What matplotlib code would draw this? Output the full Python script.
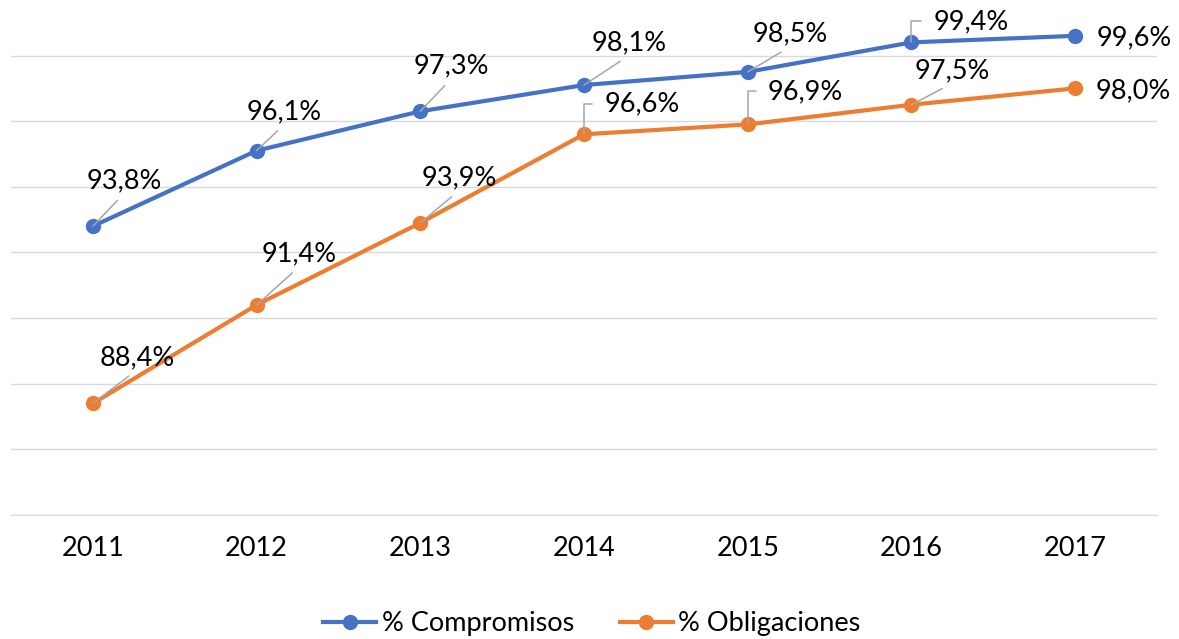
import matplotlib
matplotlib.use("Agg")
import matplotlib.pyplot as plt

plt.rcParams['font.family'] = ['Lato', 'DejaVu Sans']

years = ['2011', '2012', '2013', '2014', '2015', '2016', '2017']
compromisos = [93.8, 96.1, 97.3, 98.1, 98.5, 99.4, 99.6]
obligaciones = [88.4, 91.4, 93.9, 96.6, 96.9, 97.5, 98.0]

# label offsets in pixels (dx, dy) and leader style
comp_off = [(31, 45, 'd'), (28, 39, 'd'), (31, 45, 'd'), (45, 42, 'd'),
            (43, 38, 'd'), (60, 21, 'e'), (59, -2, None)]
oblig_off = [(44, 46, 'd'), (43, 51, 'd'), (39, 45, 'd'), (58, 30, 'e'),
             (58, 33, 'e'), (41, 34, 'd'), (58, -2, None)]

blue = '#4472C4'
orange = '#ED7D31'
fs = 19.5

fig = plt.figure(figsize=(11.79, 6.39), dpi=100)
ax = fig.add_axes([11 / 1179, (639 - 515) / 639, 1146 / 1179, 512 / 639])

x = range(len(years))
ax.plot(x, compromisos, color=blue, lw=3, marker='o', ms=10, label='% Compromisos', zorder=3)
ax.plot(x, obligaciones, color=orange, lw=3, marker='o', ms=10, label='% Obligaciones', zorder=3)


def label(vals, offs):
    for i, (v, (dx, dy, kind)) in enumerate(zip(vals, offs)):
        txt = f"{v:.1f}%".replace('.', ',')
        if kind == 'd':
            ap = dict(arrowstyle='-', color='#a6a6a6', lw=1.1, shrinkA=4, shrinkB=0,
                      relpos=(0.5, 0.0))
        elif kind == 'e':
            ap = dict(arrowstyle='-', color='#a6a6a6', lw=1.1, shrinkA=7, shrinkB=0,
                      relpos=(0.0, 0.5), connectionstyle='angle,angleA=0,angleB=90,rad=0')
        else:
            ap = None
        ax.annotate(txt, (i, v), xytext=(dx, dy), textcoords='offset pixels',
                    ha='center', va='center', fontsize=fs, color='#000000',
                    arrowprops=ap, zorder=4)


label(compromisos, comp_off)
label(obligaciones, oblig_off)

ax.set_xlim(-0.5, 6.5)
ax.set_ylim(85, 100.6)
ax.set_yticks([85, 87, 89, 91, 93, 95, 97, 99])
ax.set_yticklabels([])
ax.tick_params(axis='y', length=0)
ax.grid(axis='y', color='#d9d9d9', lw=1)
ax.set_axisbelow(True)
ax.set_xticks(list(x))
ax.set_xticklabels(years, fontsize=fs)
ax.tick_params(axis='x', length=0, pad=15)
for s in ['top', 'left', 'right']:
    ax.spines[s].set_visible(False)
ax.spines['bottom'].set_color('#d9d9d9')

fig.legend(loc='center', bbox_to_anchor=(592 / 1179, 1 - 624 / 639), ncol=2,
           frameon=False, fontsize=fs, handlelength=1.95, columnspacing=1.7,
           handletextpad=0.2)

fig.savefig('out.png', dpi=100)
